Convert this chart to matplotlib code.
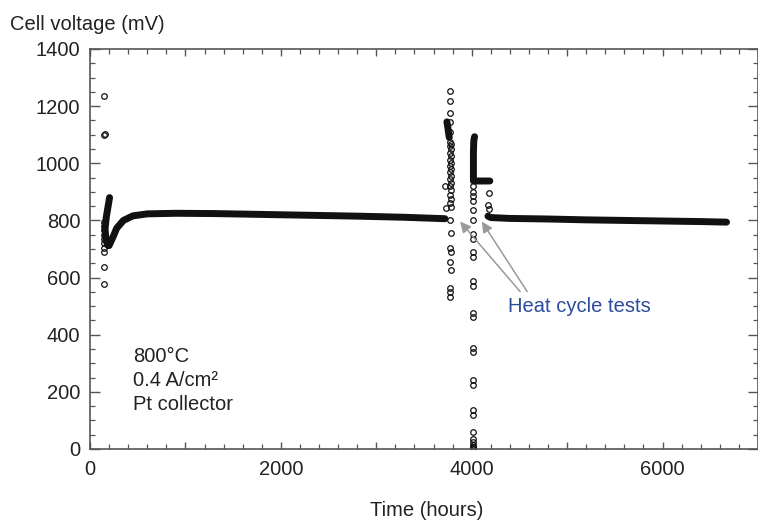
import matplotlib
matplotlib.use('Agg')
import matplotlib.pyplot as plt
from matplotlib.ticker import MultipleLocator, FuncFormatter

plt.rcParams['font.family'] = ['Liberation Sans', 'DejaVu Sans']

# dense band of readings (drawn as thick trace)
band1_t = [205, 190, 170, 158, 168, 188, 200, 245, 280, 350, 450, 600, 900, 1300,
           1800, 2300, 2800, 3300, 3720]
band1_v = [880, 850, 810, 770, 730, 712, 712, 745, 773, 800, 816, 823, 825, 824,
           821, 818, 815, 811, 806]

blob1_t = [3740, 3750, 3758, 3765]
blob1_v = [1145, 1125, 1105, 1090]

blob2_t = [4030, 4022, 4018, 4018, 4190]
blob2_v = [1093, 1080, 1040, 938, 938]

band2_t = [4170, 4200, 4400, 4800, 5200, 5600, 6000, 6400, 6670]
band2_v = [815, 810, 807, 805, 802, 800, 798, 796, 794]

# scattered readings (open circles)
start_t = [150, 150, 152, 150, 146, 146, 145, 145, 146, 147, 150, 150, 150]
start_v = [1236, 1098, 1104, 780, 765, 750, 735, 720, 705, 691, 638, 578, 795]

cyc1_t = [3775, 3775, 3775, 3775, 3770, 3780, 3772, 3778, 3770, 3780, 3775, 3780,
          3772, 3778, 3775, 3780, 3772, 3778, 3775, 3780, 3772, 3778, 3775, 3780,
          3725, 3730, 3775, 3778, 3775, 3780, 3775, 3778, 3775, 3775, 3775, 3775]
cyc1_v = [1254, 1217, 1177, 1146, 1060, 1050, 1037, 1025, 1012, 1000, 990, 980,
          968, 955, 945, 932, 920, 905, 890, 875, 862, 848, 1075, 1068,
          919, 844, 802, 757, 704, 690, 655, 627, 564, 550, 532, 1110]

cyc2_t = [4018, 4018, 4018, 4018, 4018, 4018, 4018, 4018, 4018, 4018, 4018, 4018,
          4018, 4018, 4018, 4018, 4018, 4018, 4018, 4018, 4018, 4018, 4018, 4018,
          4018, 4018, 4018, 4180, 4175, 4178]
cyc2_v = [919, 901, 884, 867, 837, 802, 752, 736, 688, 672, 588, 572, 477, 461,
          355, 339, 241, 225, 136, 120, 58, 35, 25, 15, 8, 3, 0, 897, 855, 840]

xtick_labels = ['0', '2000', '4000', '6000']

fig = plt.figure(figsize=(7.58, 5.22), dpi=100)
ax = fig.add_axes([90 / 758, 73 / 522, 668 / 758, 400 / 522])

tc = '#222222'
band_kw = dict(color='#111111', lw=5, solid_capstyle='round', solid_joinstyle='round')
ax.plot(band1_t, band1_v, **band_kw)
ax.plot(blob1_t, blob1_v, **band_kw)
ax.plot(blob2_t, blob2_v, **band_kw)
ax.plot(band2_t, band2_v, **band_kw)

mk = dict(ls='none', marker='o', ms=4, mfc='none', mec='#111111', mew=0.9)
ax.plot(start_t, start_v, **mk)
ax.plot(cyc1_t, cyc1_v, **mk)
ax.plot(cyc2_t, cyc2_v, **mk)

ax.set_xlim(0, 7000)
ax.set_ylim(0, 1400)

ax.xaxis.set_major_locator(MultipleLocator(1000))
ax.xaxis.set_minor_locator(MultipleLocator(200))
ax.xaxis.set_major_formatter(FuncFormatter(
    lambda x, p: xtick_labels[int(x) // 2000] if int(x) % 2000 == 0 and int(x) // 2000 < len(xtick_labels) else ''))
ax.yaxis.set_major_locator(MultipleLocator(200))
ax.yaxis.set_minor_locator(MultipleLocator(50))

ax.tick_params(which='both', direction='in', top=True, right=True, colors='#555555',
               labelcolor=tc, labelsize=14.5)
ax.tick_params(axis='y', which='major', length=7, width=1, pad=7)
ax.tick_params(axis='x', which='major', length=5, width=1, pad=8)
ax.tick_params(which='minor', length=3.5, width=0.9)
for s in ax.spines.values():
    s.set_color('#555555')
    s.set_linewidth(1.2)

ax.text(450, 322, '800°C', fontsize=14.5, color=tc, va='center')
ax.text(450, 238, '0.4 A/cm²', fontsize=14.5, color=tc, va='center')
ax.text(450, 154, 'Pt collector', fontsize=14.5, color=tc, va='center')

arrow = dict(arrowstyle='-|>', color='#9a9a9a', lw=1.1, mutation_scale=16,
             shrinkA=0, shrinkB=0)
ax.annotate('', xy=(3878, 796), xytext=(4507, 551), arrowprops=arrow)
ax.annotate('', xy=(4106, 796), xytext=(4581, 551), arrowprops=arrow)
ax.text(4382, 497, 'Heat cycle tests', fontsize=14.5, color='#2b4c9e', va='center')

fig.text(10 / 758, 1 - 25 / 522, 'Cell voltage (mV)', fontsize=14.5, color=tc, va='center')
fig.text(427 / 758, 1 - 510 / 522, 'Time (hours)', fontsize=14.5, color=tc,
         ha='center', va='center')

fig.savefig('out.png', dpi=100)
